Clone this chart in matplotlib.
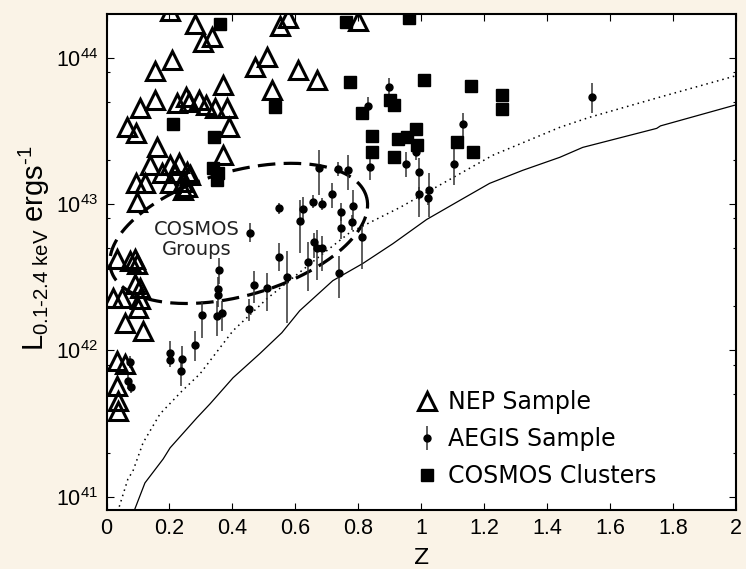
import numpy as np
import matplotlib
matplotlib.use("Agg")
import matplotlib.pyplot as plt
from matplotlib.ticker import LogLocator, NullFormatter, FixedLocator, FuncFormatter

# NEP sample (open triangles): redshift and log10 luminosity
nep_z = [0.202, 0.281, 0.335, 0.306, 0.551, 0.576, 0.798, 0.208, 0.154, 0.510,
         0.471, 0.608, 0.668, 0.525, 0.370, 0.106, 0.154, 0.224, 0.252, 0.262,
         0.294, 0.316, 0.344, 0.383, 0.065, 0.094, 0.389, 0.160, 0.370, 0.138,
         0.202, 0.230, 0.176, 0.256, 0.217, 0.094, 0.122, 0.202, 0.243, 0.265,
         0.256, 0.243, 0.097, 0.033, 0.075, 0.090, 0.097, 0.021, 0.049, 0.090,
         0.106, 0.106, 0.100, 0.059, 0.116, 0.033, 0.059, 0.033, 0.037, 0.037]
nep_logL = [44.32, 44.231, 44.142, 44.108, 44.217, 44.272, 44.251, 43.984, 43.909, 44.005,
            43.936, 43.916, 43.847, 43.779, 43.813, 43.655, 43.710, 43.690, 43.731, 43.697,
            43.710, 43.676, 43.655, 43.655, 43.525, 43.484, 43.525, 43.388, 43.334, 43.265,
            43.265, 43.279, 43.210, 43.217, 43.210, 43.142, 43.142, 43.142, 43.149, 43.197,
            43.114, 43.094, 43.012, 42.628, 42.614, 42.628, 42.594, 42.361, 42.361, 42.457,
            42.430, 42.354, 42.292, 42.190, 42.135, 41.930, 41.909, 41.758, 41.656, 41.587]

# AEGIS sample: z, log L, upper and lower end of the error bar (log L)
aeg_z = [0.897, 0.830, 1.132, 1.541, 0.837, 0.951, 0.983, 0.992, 0.992, 1.103,
         1.024, 1.021, 0.811, 0.548, 0.456, 0.624, 0.614, 0.656, 0.684, 0.716,
         0.744, 0.744, 0.783, 0.779, 0.675, 0.735, 0.767, 0.548, 0.659, 0.668,
         0.684, 0.640, 0.573, 0.738, 0.510, 0.468, 0.452, 0.357, 0.354, 0.354,
         0.351, 0.367, 0.303, 0.281, 0.202, 0.202, 0.240, 0.237, 0.075, 0.068, 0.078]
aeg_logL = [43.799, 43.669, 43.546, 43.731, 43.251, 43.272, 43.354, 43.217, 43.066, 43.272,
            43.094, 43.039, 42.772, 42.971, 42.806, 42.964, 42.888, 43.018, 42.998, 43.066,
            42.943, 42.840, 42.984, 42.875, 43.244, 43.238, 43.231, 42.642, 42.744, 42.703,
            42.703, 42.607, 42.505, 42.532, 42.430, 42.450, 42.286, 42.553, 42.423, 42.382,
            42.238, 42.258, 42.244, 42.039, 41.985, 41.936, 41.944, 41.861, 41.923, 41.793, 41.751]
aeg_hi = [43.861, 43.731, 43.621, 43.827, 43.320, 43.354, 43.402, 43.313, 43.114, 43.382,
          43.210, 43.094, 42.854, 43.005, 42.868, 43.046, 43.025, 43.060, 43.039, 43.142,
          43.005, 42.936, 43.094, 42.923, 43.368, 43.285, 43.334, 42.731, 42.806, 42.820,
          42.785, 42.738, 42.683, 42.648, 42.532, 42.546, 42.354, 42.635, 42.500, 42.430,
          42.340, 42.340, 42.340, 42.135, 42.066, 41.985, 42.032, 41.930, 41.964, 41.848, 41.793]
aeg_lo = [43.745, 43.608, 43.457, 43.621, 43.162, 43.183, 43.300, 42.909, 43.025, 43.128,
          42.909, 42.991, 42.560, 42.936, 42.738, 42.888, 42.669, 42.977, 42.957, 42.977,
          42.888, 42.765, 42.888, 42.820, 43.060, 43.190, 43.094, 42.546, 42.635, 42.478,
          42.546, 42.409, 42.190, 42.361, 42.272, 42.327, 42.204, 42.457, 42.350, 42.300,
          42.101, 42.135, 42.087, 41.930, 41.930, 41.890, 41.861, 41.758, 41.882, 41.738, 41.710]

# COSMOS clusters (filled squares)
cos_z = [0.360, 0.760, 0.960, 0.773, 1.008, 1.157, 1.256, 1.256, 0.811, 0.900,
         0.913, 0.843, 0.843, 0.925, 0.954, 0.983, 0.986, 0.913, 1.113, 1.163,
         0.535, 0.211, 0.341, 0.338, 0.354, 0.351]
cos_logL = [44.231, 44.245, 44.272, 43.834, 43.847, 43.806, 43.745, 43.649, 43.621, 43.710,
            43.676, 43.464, 43.354, 43.443, 43.457, 43.512, 43.402, 43.320, 43.423, 43.354,
            43.662, 43.546, 43.457, 43.244, 43.210, 43.162]

# flux limit curves
solid_z = [0.080, 0.122, 0.180, 0.202, 0.287, 0.329, 0.402, 0.487, 0.557, 0.614, 0.719,
           0.814, 0.910, 1.017, 1.122, 1.217, 1.322, 1.440, 1.513, 1.748, 1.760, 1.995]
solid_logL = [40.86, 41.094, 41.258, 41.334, 41.539, 41.635, 41.813, 41.978, 42.121, 42.272, 42.477,
              42.594, 42.730, 42.895, 43.025, 43.142, 43.231, 43.320, 43.388, 43.518, 43.535, 43.676]
dot_z = [0.030, 0.068, 0.084, 0.116, 0.170, 0.240, 0.297, 0.402, 0.510, 0.668, 0.773,
         0.932, 1.227, 1.440, 1.535, 1.757, 1.995]
dot_logL = [40.86, 41.121, 41.176, 41.368, 41.566, 41.723, 41.840, 42.135, 42.354, 42.628, 42.806,
            42.977, 43.334, 43.525, 43.594, 43.731, 43.875]

# COSMOS groups ellipse: centre (z, log L), semi-axes in screen pixels, tilt
ell_center = (0.42, 42.80)
ell_axes_px = (133, 62)
ell_tilt = 16

plt.rcParams['font.family'] = ['Liberation Sans', 'DejaVu Sans']
plt.rcParams['mathtext.fontset'] = 'custom'
plt.rcParams['mathtext.rm'] = 'Liberation Sans'
plt.rcParams['mathtext.it'] = 'Liberation Sans:italic'
plt.rcParams['mathtext.bf'] = 'Liberation Sans:bold'

bg = '#FAF3E7'
fig = plt.figure(figsize=(7.46, 5.69), dpi=100, facecolor=bg)
ax = fig.add_axes([0.1428, 0.1037, 0.8438, 0.8717])
ax.set_facecolor('white')

ax.plot(solid_z, 10 ** np.array(solid_logL), color='black', lw=0.9)
ax.plot(dot_z, 10 ** np.array(dot_logL), color='black', lw=1.1, ls=(0, (1, 2.6)))

L = 10 ** np.array(aeg_logL)
yerr = [L - 10 ** np.array(aeg_lo), 10 ** np.array(aeg_hi) - L]
aeg = ax.errorbar(aeg_z, L, yerr=yerr, fmt='o', color='black', ecolor='#333333',
                  elinewidth=1.1, capsize=0, ms=5, zorder=3, label='AEGIS Sample')
sq, = ax.plot(cos_z, 10 ** np.array(cos_logL), 's', color='black', ms=8.5, ls='none',
              zorder=3, label='COSMOS Clusters')
tri, = ax.plot(nep_z, 10 ** np.array(nep_logL), '^', mfc='none', mec='black', mew=2.2,
               ms=12.5, ls='none', zorder=4, label='NEP Sample')

# dashed ellipse drawn in screen proportions (315 px per unit z, 146 px per decade)
t = np.linspace(0, 2 * np.pi, 400)
a, b = ell_axes_px
th = np.radians(ell_tilt)
ez = ell_center[0] + (a * np.cos(th) * np.cos(t) - b * np.sin(th) * np.sin(t)) / 315
el = ell_center[1] + (a * np.sin(th) * np.cos(t) + b * np.cos(th) * np.sin(t)) / 146
ax.plot(ez, 10 ** el, color='black', lw=2.3, dashes=(5.5, 2.6), zorder=2)
ax.text(0.287, 10 ** 42.758, 'COSMOS\nGroups', ha='center', va='center', fontsize=14,
        family='DejaVu Sans', color='#222222', linespacing=1.1)

ax.set_yscale('log')
ax.set_xlim(0, 2)
ax.set_ylim(10 ** 40.909, 10 ** 44.30)
ax.xaxis.set_major_locator(FixedLocator(np.arange(0, 2.01, 0.2)))
ax.xaxis.set_major_formatter(FuncFormatter(lambda v, p: f'{v:g}'))
ax.yaxis.set_major_locator(LogLocator(base=10, numticks=10))
ax.yaxis.set_minor_locator(LogLocator(base=10, subs=(2, 5, 8), numticks=10))
ax.yaxis.set_minor_formatter(NullFormatter())
ax.tick_params(which='both', direction='in', top=True, right=True, width=0.8, labelsize=15.5)
ax.tick_params(which='major', length=5, pad=6)
ax.tick_params(which='minor', length=2.5)
for s in ax.spines.values():
    s.set_linewidth(1.5)

ax.set_xlabel('Z', family='DejaVu Sans', fontsize=16)
ax.xaxis.set_label_coords(0.5, -0.077)
ax.set_ylabel(r'$\mathrm{L}_{\text{0.1-2.4 keV}}$ ergs$^{\text{-1}}$', fontsize=21)
ax.yaxis.set_label_coords(-0.086, 0.528)

ax.legend(handles=[tri, aeg, sq], loc='upper left', bbox_to_anchor=(0.49, 0.242),
          frameon=False, prop={'family': 'DejaVu Sans', 'size': 17},
          handlelength=1.0, handletextpad=0.4, labelspacing=0.56,
          borderpad=0, borderaxespad=0)

fig.savefig('out.png', dpi=100, facecolor=bg)
